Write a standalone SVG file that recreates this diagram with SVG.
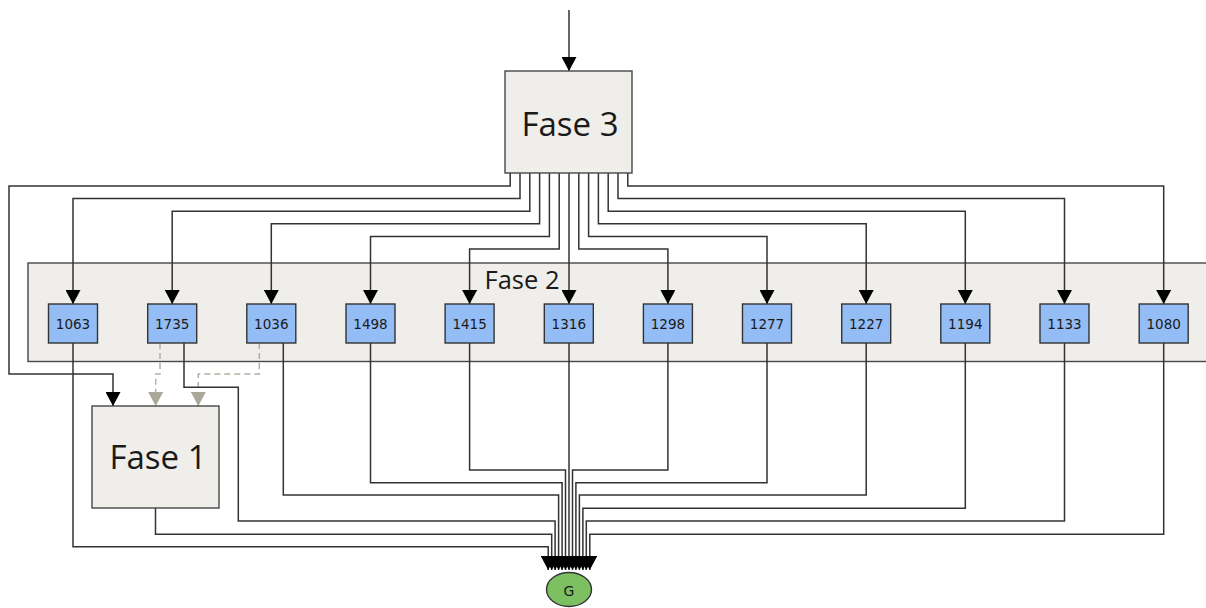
<svg xmlns="http://www.w3.org/2000/svg" width="1206" height="608" viewBox="0 0 1206 608">
  <style>
    .phase { fill: #efeeea; stroke: #474747; stroke-width: 1.4; }
    .phase-label { font-family: "Open Sans", "Liberation Sans", sans-serif; fill: #1a1a1a; text-anchor: middle; }
    .unit { fill: #94bdf6; stroke: #333333; stroke-width: 1.4; }
    .unit-label { font-family: "DejaVu Sans", sans-serif; font-size: 13.5px; fill: #1a1a1a; text-anchor: middle; }
    .wire { fill: none; stroke: #333333; stroke-width: 1.5; }
    .wire-in { fill: none; stroke: #333333; stroke-width: 1.5; marker-end: url(#head); }
    .wire-dash { fill: none; stroke: #b3b1a3; stroke-width: 1.5; stroke-dasharray: 6 4; marker-end: url(#head-grey); }
    .goal { fill: #7cc062; stroke: #333333; stroke-width: 1.4; }
  </style>
  <defs>
    <marker id="head" viewBox="0 0 14 15" refX="14" refY="7.5" markerWidth="14" markerHeight="15" markerUnits="userSpaceOnUse" orient="auto">
      <path d="M0,0 L14,7.5 L0,15 z" fill="#000000"/>
    </marker>
    <marker id="head-grey" viewBox="0 0 14 15" refX="14" refY="7.5" markerWidth="14" markerHeight="15" markerUnits="userSpaceOnUse" orient="auto">
      <path d="M0,0 L14,7.5 L0,15 z" fill="#a9a797"/>
    </marker>
  </defs>

  <rect width="1206" height="608" fill="#ffffff"/>

  <!-- Fase 2 container (background band) -->
  <g id="fase2">
    <rect class="phase" x="28" y="263" width="1200" height="98.5"/>
    <text class="phase-label" x="522" y="289" font-size="25.5">Fase 2</text>
  </g>

  <g id="connectors">
    <!-- entry into Fase 3 -->
    <path class="wire-in" d="M569,10 V71"/>
    <!-- Fase 3 fan-out -->
    <path class="wire-in" d="M510.2,173 V186 H9 V374 H113 V406"/>
    <path class="wire-in" d="M520,173 V198.6 H73 V304"/>
    <path class="wire-in" d="M529.8,173 V211.2 H172.2 V304"/>
    <path class="wire-in" d="M539.6,173 V223.8 H271.3 V304"/>
    <path class="wire-in" d="M549.4,173 V236.4 H370.5 V304"/>
    <path class="wire-in" d="M559.2,173 V249 H469.6 V304"/>
    <path class="wire-in" d="M569,173 V304"/>
    <path class="wire-in" d="M578.8,173 V249 H667.9 V304"/>
    <path class="wire-in" d="M588.6,173 V236.4 H767 V304"/>
    <path class="wire-in" d="M598.4,173 V223.8 H866.2 V304"/>
    <path class="wire-in" d="M608.2,173 V211.2 H965.3 V304"/>
    <path class="wire-in" d="M618,173 V198.6 H1064.5 V304"/>
    <path class="wire-in" d="M627.8,173 V186 H1163.7 V304"/>
    <!-- optional feeds into Fase 1 -->
    <path class="wire-dash" d="M160,343 V374 H155.7 V406"/>
    <path class="wire-dash" d="M259.3,343 V374 H198.3 V406"/>
    <!-- fan-in to G -->
    <path class="wire-in" d="M73,343 V546.7 H548.2 V570"/>
    <path class="wire-in" d="M155.5,508 V534.3 H551.7 V570"/>
    <path class="wire-in" d="M184,343 V387.3 H238.3 V521 H555.1 V570"/>
    <path class="wire-in" d="M283.3,343 V495 H558.6 V570"/>
    <path class="wire-in" d="M370.5,343 V482.7 H562.1 V570"/>
    <path class="wire-in" d="M469.6,343 V470 H565.5 V570"/>
    <path class="wire-in" d="M569,343 V570"/>
    <path class="wire-in" d="M667.9,343 V470 H572.5 V570"/>
    <path class="wire-in" d="M767,343 V482.7 H575.9 V570"/>
    <path class="wire-in" d="M866.2,343 V495 H579.4 V570"/>
    <path class="wire-in" d="M965.3,343 V508.3 H582.9 V570"/>
    <path class="wire-in" d="M1064.5,343 V521 H586.3 V570"/>
    <path class="wire-in" d="M1163.7,343 V534.3 H589.8 V570"/>
  </g>

  <g id="fase3">
    <rect class="phase" x="505" y="71" width="127" height="102"/>
    <text class="phase-label" x="570" y="136" font-size="33">Fase 3</text>
  </g>

  <g id="fase1">
    <rect class="phase" x="92" y="406" width="127" height="102"/>
    <text class="phase-label" x="158" y="469" font-size="33">Fase 1</text>
  </g>

  <g id="u1063"><rect class="unit" x="48.5" y="304" width="49" height="39"/><text class="unit-label" x="73" y="329">1063</text></g>
  <g id="u1735"><rect class="unit" x="147.7" y="304" width="49" height="39"/><text class="unit-label" x="172.2" y="329">1735</text></g>
  <g id="u1036"><rect class="unit" x="246.8" y="304" width="49" height="39"/><text class="unit-label" x="271.3" y="329">1036</text></g>
  <g id="u1498"><rect class="unit" x="346" y="304" width="49" height="39"/><text class="unit-label" x="370.5" y="329">1498</text></g>
  <g id="u1415"><rect class="unit" x="445.1" y="304" width="49" height="39"/><text class="unit-label" x="469.6" y="329">1415</text></g>
  <g id="u1316"><rect class="unit" x="544.3" y="304" width="49" height="39"/><text class="unit-label" x="568.8" y="329">1316</text></g>
  <g id="u1298"><rect class="unit" x="643.4" y="304" width="49" height="39"/><text class="unit-label" x="667.9" y="329">1298</text></g>
  <g id="u1277"><rect class="unit" x="742.5" y="304" width="49" height="39"/><text class="unit-label" x="767" y="329">1277</text></g>
  <g id="u1227"><rect class="unit" x="841.7" y="304" width="49" height="39"/><text class="unit-label" x="866.2" y="329">1227</text></g>
  <g id="u1194"><rect class="unit" x="940.8" y="304" width="49" height="39"/><text class="unit-label" x="965.3" y="329">1194</text></g>
  <g id="u1133"><rect class="unit" x="1040" y="304" width="49" height="39"/><text class="unit-label" x="1064.5" y="329">1133</text></g>
  <g id="u1080"><rect class="unit" x="1139.2" y="304" width="49" height="39"/><text class="unit-label" x="1163.7" y="329">1080</text></g>

  <g id="goal">
    <ellipse class="goal" cx="569" cy="589.5" rx="22.5" ry="17"/>
    <text x="569" y="596" font-family="'DejaVu Sans', sans-serif" font-size="14" fill="#1a1a1a" text-anchor="middle">G</text>
  </g>
</svg>
